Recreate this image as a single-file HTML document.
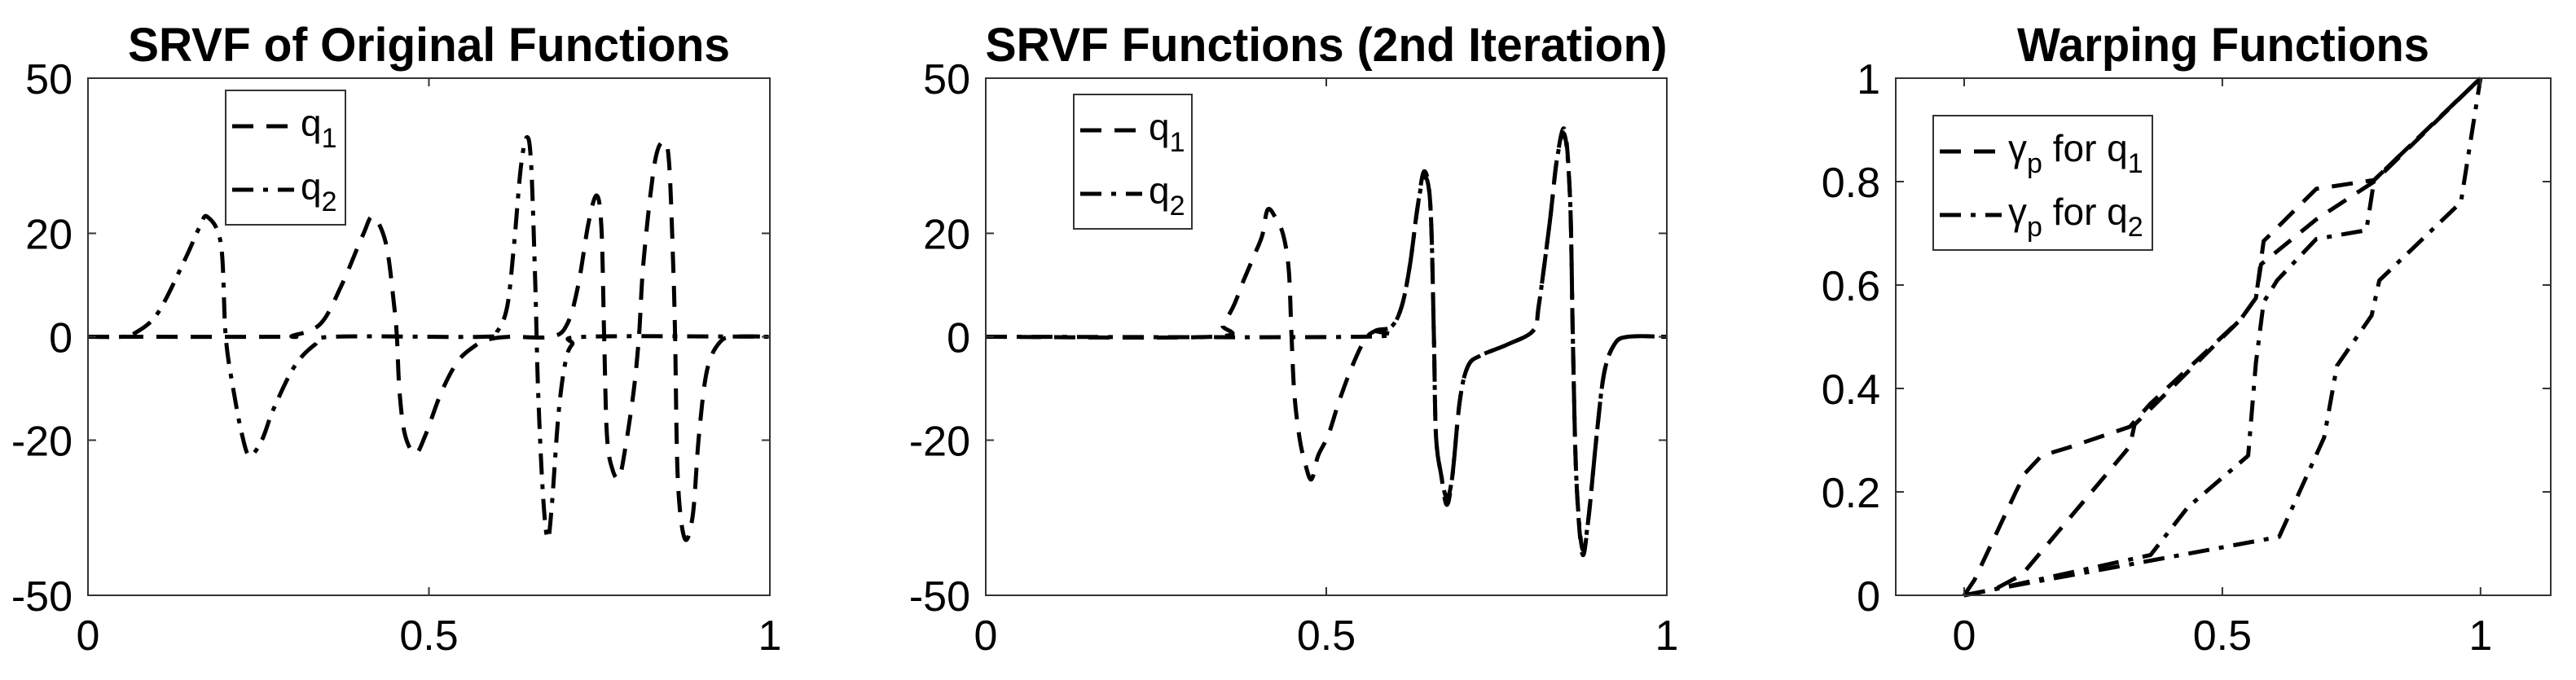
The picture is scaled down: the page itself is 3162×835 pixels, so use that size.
<!DOCTYPE html>
<html><head><meta charset="utf-8"><style>
html,body{margin:0;padding:0;background:#fff;}
svg{display:block;font-family:"Liberation Sans",Arial,sans-serif;}
</style></head><body>
<svg id="fig" width="3162" height="835" viewBox="0 0 3162 835" xmlns="http://www.w3.org/2000/svg"></svg>
<script>
// Panel 1: SRVF of original functions
const p1q1X = [0,0.28,0.30,0.341,0.372,0.403,0.418,0.437,0.449,0.453,0.457,0.465,0.48,0.495,0.518,0.542,0.565,0.588,0.62,0.68,0.703,0.719,0.734,0.746,0.753,0.757,0.761,0.769,0.779,0.788,0.80,0.808,0.815,0.831,0.844,0.852,0.858,0.861,0.865,0.875,0.887,0.896,0.908,0.927,0.95,1];
const p1q1Y = [0,0,0.2,2.5,10,19.6,23.2,18,6,0,-10.8,-19,-22.6,-19,-10.8,-4.8,-2,-0.5,0,0,2.5,10,22,27.3,21,0,-19,-25.6,-27.2,-21.5,-10.8,0,15,33.5,37.7,34,15,0,-27.5,-39,-34.5,-19,-6.4,-1,0,0];
const p1q2X = [0,0.05,0.07,0.102,0.141,0.164,0.175,0.195,0.202,0.214,0.226,0.237,0.255,0.272,0.303,0.333,0.36,0.58,0.60,0.615,0.625,0.635,0.644,0.65,0.656,0.66,0.667,0.674,0.68,0.69,0.70,0.71,0.73,1];
const p1q2Y = [0,0,0.8,4.5,14.6,21.3,23.2,17.9,0,-10.8,-19,-23,-20,-14,-5.7,-1.5,0,0,1,6,18,33,38.6,33,10,-10,-30,-39,-33,-15,-5,-1.5,0,0];
// Panel 2: SRVF functions (2nd iteration)
const p2q1X = [0,0.334,0.348,0.364,0.379,0.395,0.406,0.414,0.426,0.437,0.445,0.449,0.453,0.46,0.468,0.478,0.488,0.503,0.519,0.538,0.557,0.573,0.596,0.611,0.623,0.634,0.644,0.653,0.658,0.661,0.669,0.677,0.685,0.696,0.708,0.727,0.766,0.804,0.812,0.828,0.839,0.85,0.858,0.862,0.867,0.876,0.885,0.897,0.908,0.923,0.943,1];
const p2q1Y = [0,0,2.3,6,11,16,19.6,24.6,22.9,19.6,12.8,0,-10.8,-19,-24,-27.6,-23,-19,-12.4,-5.7,-0.5,1.2,2,6,14,25,32,25,0,-19,-27,-32.5,-27,-12.4,-5.7,-3.6,-1.5,1.2,6,22,34.6,40,26.5,0,-27,-42,-35,-19,-7,-1.5,0,0];
const p2q2X = [0,0.55,0.573,0.596,0.611,0.623,0.634,0.644,0.653,0.658,0.661,0.669,0.677,0.685,0.696,0.708,0.727,0.766,0.804,0.812,0.828,0.839,0.85,0.858,0.862,0.867,0.876,0.885,0.897,0.908,0.923,0.943,1];
const p2q2Y = [0,0,1.2,2,6,14,25,31,25,0,-19,-27,-31,-27,-12.4,-5.7,-3.6,-1.5,1.2,6,22,34.6,39,26.5,0,-27,-41,-35,-19,-7,-1.5,0,0];
// Panel 3: warping functions
const g1aX = [0,0.02,0.10,0.118,0.15,0.20,0.321,0.36,0.535,0.565,0.58,0.682,0.794,1];
const g1aY = [0,0.03,0.20,0.236,0.27,0.285,0.326,0.37,0.533,0.575,0.685,0.786,0.803,1];
const g1bX = [0,0.06,0.112,0.321,0.33,0.535,0.565,0.575,0.682,0.794,1];
const g1bY = [0,0.012,0.04,0.288,0.33,0.533,0.575,0.64,0.727,0.80,1];
const g2aX = [0,0.06,0.361,0.433,0.55,0.565,0.58,0.606,0.682,0.779,0.794,1];
const g2aY = [0,0.012,0.078,0.17,0.27,0.45,0.567,0.609,0.689,0.706,0.803,1];
const g2bX = [0,0.06,0.35,0.61,0.697,0.722,0.789,0.804,0.962,1];
const g2bY = [0,0.012,0.065,0.113,0.305,0.444,0.541,0.609,0.76,1];
const srvfYTicks = [50,20,0,-20,-50];
const srvfXTicks = [0,0.5,1];
const srvfXLabels = ["0","0.5","1"];
const warpYTicks = [0,0.2,0.4,0.6,0.8,1];
const warpYLabels = ["0","0.2","0.4","0.6","0.8","1"];

const NS="http://www.w3.org/2000/svg";
const svg=document.getElementById('fig');
function mk(tag,attrs,parent){const e=document.createElementNS(NS,tag);for(const k in attrs)e.setAttribute(k,attrs[k]);(parent||svg).appendChild(e);return e;}
const DASH="26 16", DASHDOT="26 12 6 12";

function smoothPath(pts){
  let d="M"+pts[0][0]+","+pts[0][1];
  for(let i=0;i<pts.length-1;i++){
    const p0=pts[Math.max(0,i-1)],p1=pts[i],p2=pts[i+1],p3=pts[Math.min(pts.length-1,i+2)];
    const c1x=p1[0]+(p2[0]-p0[0])/6,c1y=p1[1]+(p2[1]-p0[1])/6;
    const c2x=p2[0]-(p3[0]-p1[0])/6,c2y=p2[1]-(p3[1]-p1[1])/6;
    d+=" C"+c1x.toFixed(1)+","+c1y.toFixed(1)+" "+c2x.toFixed(1)+","+c2y.toFixed(1)+" "+p2[0].toFixed(1)+","+p2[1].toFixed(1);
  }
  return d;
}
function linPath(pts){return "M"+pts.map(p=>p[0].toFixed(1)+","+p[1].toFixed(1)).join(" L");}

function panel(o){
  const g=mk('g',{});
  
  
  const sx=v=>o.L+(v-o.xmin)/(o.xmax-o.xmin)*(o.R-o.L);
  const sy=v=>o.B-(v-o.ymin)/(o.ymax-o.ymin)*(o.B-o.T);
  const t=mk('text',{x:(o.L+o.R)/2,y:75,'text-anchor':'middle','font-size':58,'font-weight':'bold',textLength:o.tw,lengthAdjust:'spacingAndGlyphs'},g);
  t.textContent=o.title;
  
  
  o.series.forEach(s=>{
    const pts=s.x.map((v,i)=>[sx(v),sy(s.y[i])]);
    const p=mk('path',{d:o.smooth?smoothPath(pts):linPath(pts),fill:'none',stroke:'#000','stroke-width':5,'stroke-dasharray':s.dash,'stroke-linejoin':'round'},g);
    
    
  });
  const box=mk('rect',{x:o.L,y:o.T,width:o.R-o.L,height:o.B-o.T,fill:'none',stroke:'#333','stroke-width':2},g);
  
  
  o.yt.forEach((v,i)=>{
    const y=sy(v);
    mk('line',{x1:o.L,x2:o.L+10,y1:y,y2:y,stroke:'#333','stroke-width':2},g);
    mk('line',{x1:o.R,x2:o.R-10,y1:y,y2:y,stroke:'#333','stroke-width':2},g);
    const tl=mk('text',{x:o.L-19,y:y+19,'text-anchor':'end','font-size':52},g);
    tl.textContent=o.ytl[i];
    
    
  });
  o.xt.forEach((v,i)=>{
    const x=sx(v);
    mk('line',{x1:x,x2:x,y1:o.B,y2:o.B-10,stroke:'#333','stroke-width':2},g);
    mk('line',{x1:x,x2:x,y1:o.T,y2:o.T+10,stroke:'#333','stroke-width':2},g);
    const tl=mk('text',{x:x,y:798,'text-anchor':'middle','font-size':52},g);
    tl.textContent=o.xtl[i];
    
    
  });
  const lg=mk('g',{},g);
  
  
  const lb=o.leg;
  mk('rect',{x:lb.x,y:lb.y,width:lb.w,height:lb.h,fill:'#fff',stroke:'#333','stroke-width':2},lg);
  lb.items.forEach((it,i)=>{
    const cy=lb.y+44+i*78;
    mk('line',{x1:lb.x+8,x2:lb.x+84,y1:cy,y2:cy,stroke:'#000','stroke-width':5,'stroke-dasharray':it.dash},lg);
    const tx=mk('text',{x:lb.x+92,y:cy+12,'font-size':46},lg);
    tx.innerHTML=it.html;
    
    
  });
}

panel({name:'srvf-original-panel',title:'SRVF of Original Functions',tw:739,L:108,R:945,T:96,B:731,xmin:0,xmax:1,ymin:-50,ymax:50,smooth:true,
  yt:srvfYTicks,ytl:srvfYTicks.map(String),xt:srvfXTicks,xtl:srvfXLabels,
  series:[{name:'q1-line',x:p1q1X,y:p1q1Y,dash:DASH},{name:'q2-line',x:p1q2X,y:p1q2Y,dash:DASHDOT}],
  leg:{x:277,y:111,w:147,h:165,items:[{dash:DASH,html:'q<tspan dy="14" font-size="34">1</tspan>'},{dash:DASHDOT,html:'q<tspan dy="14" font-size="34">2</tspan>'}]}});
panel({name:'srvf-2nd-iteration-panel',title:'SRVF Functions (2nd Iteration)',tw:837,L:1210,R:2046,T:96,B:731,xmin:0,xmax:1,ymin:-50,ymax:50,smooth:true,
  yt:srvfYTicks,ytl:srvfYTicks.map(String),xt:srvfXTicks,xtl:srvfXLabels,
  series:[{name:'q1-line',x:p2q1X,y:p2q1Y,dash:DASH},{name:'q2-line',x:p2q2X,y:p2q2Y,dash:DASHDOT}],
  leg:{x:1318,y:116,w:145,h:165,items:[{dash:DASH,html:'q<tspan dy="14" font-size="34">1</tspan>'},{dash:DASHDOT,html:'q<tspan dy="14" font-size="34">2</tspan>'}]}});
panel({name:'warping-functions-panel',title:'Warping Functions',tw:506,L:2327,R:3131,T:96,B:731,xmin:-0.1325,xmax:1.136,ymin:0,ymax:1,smooth:false,
  yt:warpYTicks,ytl:warpYLabels,xt:srvfXTicks,xtl:srvfXLabels,
  series:[{name:'gamma-q1-line-a',x:g1aX,y:g1aY,dash:DASH},{name:'gamma-q1-line-b',x:g1bX,y:g1bY,dash:DASH},
          {name:'gamma-q2-line-a',x:g2aX,y:g2aY,dash:DASHDOT},{name:'gamma-q2-line-b',x:g2bX,y:g2bY,dash:DASHDOT}],
  leg:{x:2373,y:142,w:269,h:165,items:[{dash:DASH,html:'γ<tspan dy="14" font-size="34">p</tspan><tspan dy="-14"> for q</tspan><tspan dy="14" font-size="34">1</tspan>'},{dash:DASHDOT,html:'γ<tspan dy="14" font-size="34">p</tspan><tspan dy="-14"> for q</tspan><tspan dy="14" font-size="34">2</tspan>'}]}});
</script>
</body></html>
